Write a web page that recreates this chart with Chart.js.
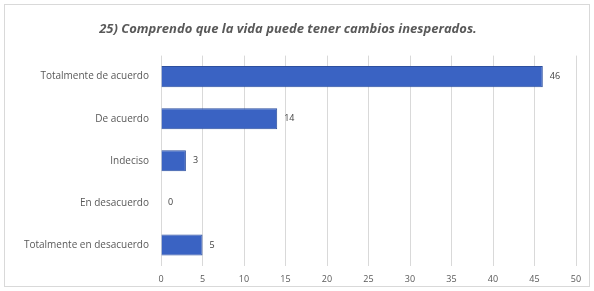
<!DOCTYPE html>
<html><head><meta charset="utf-8">
<script src="https://cdn.jsdelivr.net/npm/chart.js@4"></script>
<style>html,body{margin:0;padding:0;background:#fff}#wrap{width:594px;height:291px;position:relative}</style>
</head><body><div id="wrap"><canvas id="c" width="594" height="291"></canvas></div>
<script>
const categories = ["Totalmente de acuerdo","De acuerdo","Indeciso","En desacuerdo","Totalmente en desacuerdo"];
const values = [46, 14, 3, 0, 5];
const xTicks = [0,5,10,15,20,25,30,35,40,45,50];
const title = "25) Comprendo que la vida puede tener cambios inesperados.";
const FONT = '"Open Sans", Lato, sans-serif';

const valueLabels = {
  id: 'valueLabels',
  afterDatasetsDraw(chart) {
    const ctx = chart.ctx;
    const meta = chart.getDatasetMeta(0);
    ctx.save();
    ctx.font = '9px ' + FONT;
    ctx.fillStyle = '#404040';
    ctx.textAlign = 'left';
    ctx.textBaseline = 'middle';
    meta.data.forEach((bar, i) => {
      ctx.fillText(String(values[i]), bar.x + 7, bar.y);
    });
    ctx.restore();
  }
};
const border = {
  id: 'border',
  afterDraw(chart) {
    const ctx = chart.ctx;
    ctx.save();
    ctx.strokeStyle = '#d9d9d9';
    ctx.lineWidth = 1;
    ctx.strokeRect(4.5, 4.5, 585, 282);
    ctx.restore();
  }
};

new Chart(document.getElementById('c'), {
  type: 'bar',
  data: {
    labels: categories,
    datasets: [{
      data: values,
      backgroundColor: '#3a63c3',
      borderColor: '#2d4f9e',
      borderWidth: 1,
      borderSkipped: 'left',
      barPercentage: 0.5,
      categoryPercentage: 1.0
    }]
  },
  options: {
    indexAxis: 'y',
    responsive: false,
    animation: false,
    layout: { padding: { left: 0, right: 18, top: 0, bottom: 0 } },
    plugins: {
      legend: { display: false },
      tooltip: { enabled: false },
      title: {
        display: true,
        text: title,
        color: '#595959',
        font: { family: FONT, size: 13, style: 'italic', weight: 'bold' },
        padding: { top: 21, bottom: 19 }
      }
    },
    scales: {
      x: {
        min: 0, max: 50,
        afterBuildTicks(scale) { scale.ticks = xTicks.map(v => ({ value: v })); },
        afterFit(scale) { scale.height = 25; },
        grid: { color: '#d9d9d9', drawTicks: false },
        border: { display: false },
        ticks: { color: '#595959', font: { family: FONT, size: 9 }, padding: 8 }
      },
      y: {
        afterFit(scale) { scale.width = 161; },
        grid: { display: false, drawTicks: false },
        border: { display: false },
        ticks: { color: '#595959', font: { family: FONT, size: 10 }, padding: 12 }
      }
    }
  },
  plugins: [valueLabels, border]
});
</script></body></html>
